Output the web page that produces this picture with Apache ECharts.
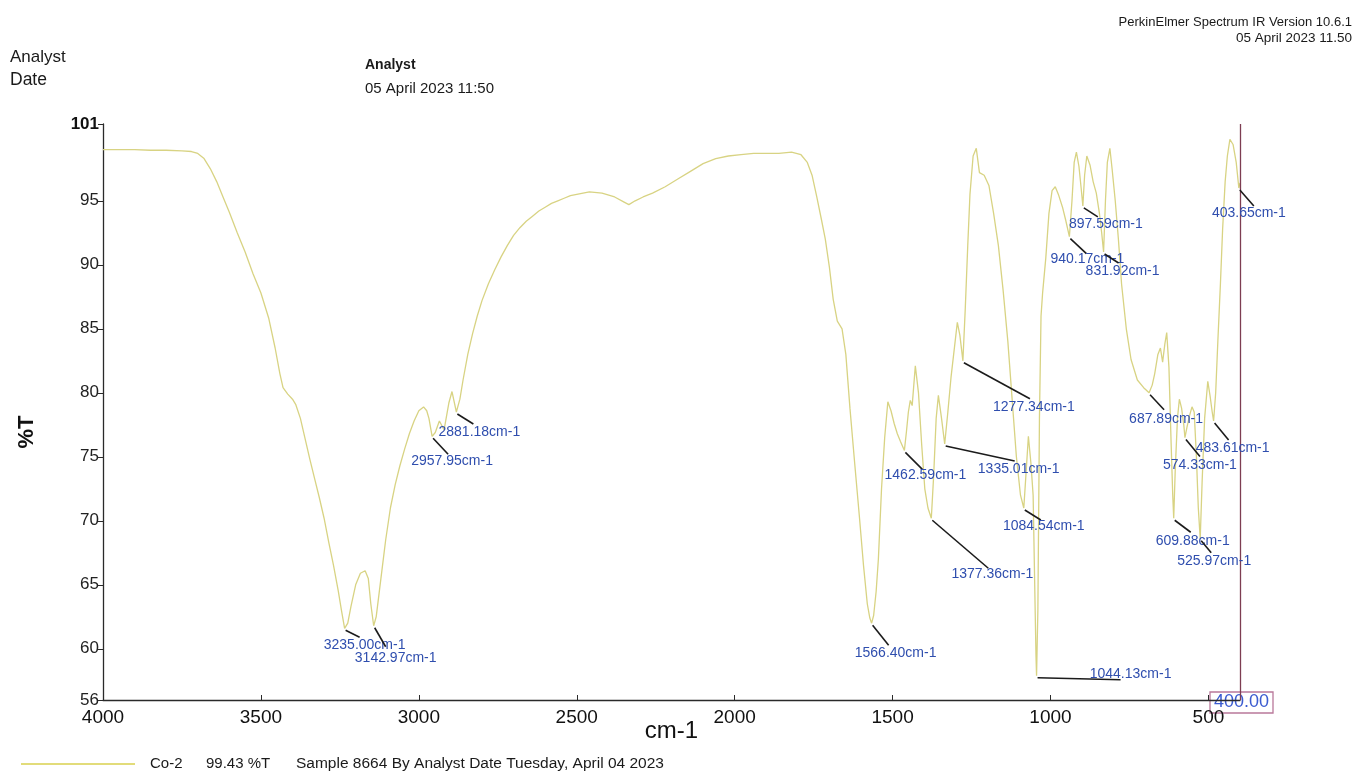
<!DOCTYPE html>
<html>
<head>
<meta charset="utf-8">
<title>Co-2 IR spectrum</title>
<script src="https://cdn.jsdelivr.net/npm/echarts@6/dist/echarts.min.js"></script>
<style>
  html, body { margin: 0; padding: 0; background: #ffffff; }
  #chart { width: 1358px; height: 771px; }
</style>
</head>
<body>
<div id="chart"></div>
<script>
// FT-IR transmission spectrum of sample Co-2 (wavenumber in cm-1, %T)
const wavenumbers = [
  4000, 3950, 3900, 3850, 3800, 3750, 3720, 3700, 3680, 3660, 3640, 3620, 3600, 3575, 3550, 3525, 3500, 3475, 3455, 3440,
  3430, 3415, 3400, 3390, 3375, 3360, 3345, 3330, 3315, 3300, 3285, 3270, 3255, 3245, 3235, 3225, 3215, 3200, 3185, 3170,
  3160, 3152, 3142.97, 3135, 3120, 3105, 3090, 3075, 3060, 3045, 3030, 3015, 3000, 2985, 2975, 2968, 2957.95, 2948, 2935, 2920,
  2905, 2895, 2881.18, 2870, 2860, 2845, 2830, 2815, 2800, 2780, 2760, 2740, 2720, 2700, 2680, 2660, 2640, 2620, 2600, 2580,
  2560, 2540, 2520, 2500, 2460, 2420, 2380, 2350, 2335, 2315, 2290, 2260, 2220, 2180, 2140, 2100, 2060, 2020, 1980, 1940,
  1900, 1860, 1820, 1790, 1770, 1755, 1740, 1725, 1713, 1700, 1688, 1675, 1660, 1648, 1635, 1620, 1605, 1592, 1580, 1572,
  1566.40, 1560, 1552, 1545, 1535, 1525, 1515, 1505, 1495, 1485, 1475, 1462.59, 1456, 1450, 1444, 1438, 1428, 1418, 1408, 1398,
  1388, 1377.36, 1370, 1362, 1355, 1345, 1335.01, 1325, 1315, 1302, 1295, 1287, 1277.34, 1270, 1262, 1255, 1245, 1235, 1225, 1210,
  1195, 1180, 1165, 1150, 1135, 1120, 1108, 1095, 1084.54, 1078, 1070, 1062, 1055, 1050, 1046, 1044.13, 1040, 1035, 1030, 1025,
  1015, 1005, 995, 985, 975, 962, 952, 940.17, 932, 925, 918, 910, 903, 897.59, 892, 885, 875, 865, 855, 845,
  838, 831.92, 826, 820, 812, 805, 795, 785, 775, 760, 745, 725, 705, 687.89, 678, 670, 660, 652, 645, 638,
  632, 625, 618, 613, 609.88, 605, 598, 592, 585, 578, 574.33, 568, 560, 552, 545, 538, 532, 525.97, 520, 512,
  502, 495, 488, 483.61, 477, 470, 462, 455, 447, 440, 432, 422, 412, 403.65, 400
];
const transmittance = [
  99.0, 99.0, 99.0, 98.95, 98.95, 98.9, 98.85, 98.7, 98.3, 97.5, 96.5, 95.3, 94.1, 92.5, 91.0, 89.3, 87.8, 85.8, 83.5, 81.5,
  80.4, 79.9, 79.5, 79.1, 78.0, 76.4, 74.8, 73.3, 71.8, 70.2, 68.3, 66.5, 64.5, 63.0, 61.6, 62.0, 63.3, 65.0, 65.9, 66.1,
  65.5, 63.5, 61.8, 62.5, 65.5, 68.5, 71.0, 72.8, 74.3, 75.6, 76.8, 77.8, 78.6, 78.9, 78.6, 78.0, 76.6, 76.9, 77.8, 77.1,
  79.2, 80.1, 78.5, 79.5, 81.0, 83.0, 84.6, 86.0, 87.2, 88.5, 89.6, 90.6, 91.5, 92.3, 92.9, 93.4, 93.8, 94.2, 94.5, 94.8,
  95.0, 95.2, 95.4, 95.5, 95.7, 95.6, 95.3, 94.9, 94.7, 95.0, 95.3, 95.6, 96.1, 96.7, 97.3, 97.9, 98.3, 98.5, 98.6, 98.7,
  98.7, 98.7, 98.8, 98.6, 98.0, 97.0, 95.3, 93.5, 92.0, 89.8, 87.3, 85.6, 85.0, 83.0, 78.8, 74.5, 70.3, 66.5, 63.5, 62.4,
  62.0, 62.6, 64.5, 67.0, 72.5, 76.5, 79.3, 78.6, 77.6, 76.8, 76.2, 75.5, 77.0, 78.5, 79.4, 79.0, 82.1, 80.0, 76.0, 72.5,
  71.0, 70.2, 73.5, 78.0, 79.8, 78.0, 76.0, 78.5, 81.2, 84.0, 85.5, 84.5, 82.5, 86.5, 91.5, 95.5, 98.5, 99.1, 97.2, 97.0,
  96.2, 94.0, 91.5, 88.0, 84.0, 79.0, 75.0, 72.0, 71.0, 73.5, 76.6, 74.5, 72.0, 65.0, 59.5, 57.9, 63.0, 78.0, 86.0, 87.8,
  90.5, 94.0, 95.8, 96.1, 95.5, 94.5, 93.5, 92.2, 95.0, 98.0, 98.8, 97.7, 96.0, 94.6, 97.0, 98.5, 97.8, 96.5, 95.6, 94.0,
  92.5, 91.0, 95.0, 98.0, 99.1, 97.5, 95.0, 92.0, 88.5, 85.0, 82.6, 81.0, 80.4, 80.0, 80.6, 81.5, 83.0, 83.5, 82.4, 83.8,
  84.7, 82.0, 76.0, 72.0, 70.2, 74.0, 78.0, 79.5, 78.8, 77.5, 76.5, 77.3, 78.2, 78.9, 78.5, 75.0, 71.0, 68.6, 73.0, 78.0,
  80.9, 79.8, 78.5, 77.8, 80.0, 84.1, 88.5, 92.8, 96.5, 98.5, 99.8, 99.4, 98.0, 96.0, 96.4
];

// Picked peaks (labelled minima)
const peakWavenumbers = [3235.00, 3142.97, 2957.95, 2881.18, 1566.40, 1462.59, 1377.36, 1335.01, 1277.34, 1084.54,
  1044.13, 940.17, 897.59, 831.92, 687.89, 609.88, 574.33, 525.97, 483.61, 403.65];
const peakTransmittance = [61.6, 61.8, 76.6, 78.5, 62.0, 75.5, 70.2, 76.0, 82.5, 71.0,
  57.9, 92.2, 94.6, 91.0, 80.0, 70.2, 76.5, 68.6, 77.8, 96.0];

// Axis tick labels
const xTicks = [4000, 3500, 3000, 2500, 2000, 1500, 1000, 500];
const yTicks = [56, 60, 65, 70, 75, 80, 85, 90, 95, 101];

// Callout placement, pixels relative to each peak: [leader end x, leader end y, text x, text y]
const calloutLayout = [
  [15, 9, 20, 17], [12, 21, 22, 32], [16, 18, 20, 25], [17, 12, 23, 20], [17, 22, 24, 30],
  [18, 19, 21, 25], [57, 50, 61, 56], [70, 17, 74, 25], [67, 38, 71, 46], [17, 12, 20, 18],
  [84, 4, 94, -2], [17, 17, 18, 23], [15, 11, 23, 18], [15, 11, 19, 19], [15, 17, 17, 26],
  [17, 14, 19, 23], [15, 19, 15, 28], [11, 14, 14, 22], [15, 19, 19, 27], [15, 18, 10, 25]
];

const FONT = "'Liberation Sans', Arial, sans-serif";
const traceColor = '#d8d383';
const peakColor = '#2f4eae';

const spectrum = wavenumbers.map((w, i) => [w, transmittance[i]]);
const peaks = peakWavenumbers.map((w, i) => [w, peakTransmittance[i], i]);

const chart = echarts.init(document.getElementById('chart'), null, { renderer: 'canvas' });

function textEl(id, x, y, text, size, opts) {
  return Object.assign({
    type: 'text', id: id, x: x, y: y, silent: true,
    style: Object.assign({ text: text, fill: '#1a1a1a', font: size + 'px ' + FONT,
      textAlign: 'left', textVerticalAlign: 'middle' }, (opts && opts.style) || {})
  }, (opts && opts.el) || {});
}

chart.setOption({
  animation: false,
  backgroundColor: '#ffffff',
  grid: { left: 103, right: 118, top: 124, bottom: 71 },
  xAxis: {
    type: 'value', inverse: true, min: 400, max: 4000,
    name: 'cm-1', nameLocation: 'middle', nameGap: 19, nameMoveOverlap: false,
    nameTextStyle: { fontFamily: FONT, fontSize: 24, color: '#111' },
    axisLine: { show: true, onZero: false, lineStyle: { color: '#2a2a2a', width: 1.3 } },
    axisTick: { show: true, inside: true, length: 5, customValues: xTicks, lineStyle: { color: '#2a2a2a' } },
    axisLabel: { customValues: xTicks, margin: 8, fontFamily: FONT, fontSize: 19, color: '#111',
      formatter: v => String(v) },
    splitLine: { show: false }
  },
  yAxis: {
    type: 'value', min: 56, max: 101,
    axisLine: { show: true, onZero: false, lineStyle: { color: '#2a2a2a', width: 1.3 } },
    axisTick: { show: true, inside: false, length: 5, customValues: yTicks, lineStyle: { color: '#2a2a2a' } },
    axisLabel: {
      customValues: yTicks, margin: 4, fontFamily: FONT, fontSize: 17, color: '#222',
      formatter: v => (v === 101 ? '{b|101}' : String(v)),
      rich: { b: { fontFamily: FONT, fontSize: 17, fontWeight: 'bold', color: '#111' } }
    },
    splitLine: { show: false }
  },
  legend: {
    left: 16, top: 751, icon: 'rect', itemWidth: 114, itemHeight: 2, itemGap: 0,
    data: ['Co-2'],
    formatter: () => '{a|Co-2}{b|99.43 %T}{c|Sample 8664 By Analyst Date Tuesday, April 04 2023}',
    textStyle: {
      fontFamily: FONT, fontSize: 15, color: '#1a1a1a',
      rich: {
        a: { fontFamily: FONT, fontSize: 15, width: 56, padding: [0, 0, 0, 10], color: '#1a1a1a' },
        b: { fontFamily: FONT, fontSize: 15, width: 90, color: '#1a1a1a' },
        c: { fontFamily: FONT, fontSize: 15.5, color: '#1a1a1a' }
      }
    }
  },
  graphic: [
    textEl('hdr1', 10, 57, 'Analyst', 17),
    textEl('hdr2', 10, 80, 'Date', 17.5),
    textEl('hdr3', 365, 65, 'Analyst', 14, { style: { font: 'bold 14px ' + FONT } }),
    textEl('hdr4', 365, 89, '05 April 2023 11:50', 15),
    textEl('hdr5', 1352, 22, 'PerkinElmer Spectrum IR Version 10.6.1', 13, { style: { textAlign: 'right' } }),
    textEl('hdr6', 1352, 38, '05 April 2023 11.50', 13.5, { style: { textAlign: 'right' } }),
    textEl('yname', 27, 432, '%T', 22, {
      style: { font: 'bold 22px ' + FONT, textAlign: 'center', fill: '#111' },
      el: { rotation: Math.PI / 2 }
    })
  ],
  series: [
    {
      name: 'Co-2', type: 'line', data: spectrum, showSymbol: false, symbol: 'none',
      lineStyle: { color: traceColor, width: 1.3 }, itemStyle: { color: '#e2dc7a' },
      clip: false, z: 2,
      markLine: {
        silent: true, symbol: 'none', label: { show: false },
        lineStyle: { color: '#7d3d52', width: 1.3, type: 'solid' },
        data: [{ xAxis: 400 }]
      }
    },
    {
      name: 'peaks', type: 'custom', data: peaks, encode: { x: 0, y: 1 }, z: 5, clip: false,
      renderItem: (params, api) => {
        const p = api.coord([api.value(0), api.value(1)]);
        const lay = calloutLayout[params.dataIndex];
        const label = peakWavenumbers[params.dataIndex].toFixed(2) + 'cm-1';
        return {
          type: 'group',
          children: [
            { type: 'line', shape: { x1: p[0] + 1, y1: p[1] + 2, x2: p[0] + lay[0], y2: p[1] + lay[1] },
              style: { stroke: '#1b1b1b', lineWidth: 1.6 } },
            { type: 'text', x: p[0] + lay[2], y: p[1] + lay[3],
              style: { text: label, fill: peakColor, font: '14px ' + FONT, textAlign: 'center', textVerticalAlign: 'middle' } }
          ]
        };
      }
    }
  ]
});

// Boxed end-of-range marker at the low-wavenumber limit
const xEnd = chart.convertToPixel({ xAxisIndex: 0 }, 400);
const yBase = chart.convertToPixel({ yAxisIndex: 0 }, 56);
chart.setOption({
  graphic: [
    { type: 'rect', id: 'endBox', silent: true, shape: { x: xEnd - 30, y: yBase - 8, width: 63, height: 21 },
      style: { fill: 'rgba(255,255,255,0.35)', stroke: '#b9789a', lineWidth: 1.3 } },
    textEl('endTxt', xEnd + 1.5, yBase + 2.5, '400.00', 18, { style: { fill: '#3b5bd0', textAlign: 'center' } })
  ]
});
</script>
</body>
</html>
